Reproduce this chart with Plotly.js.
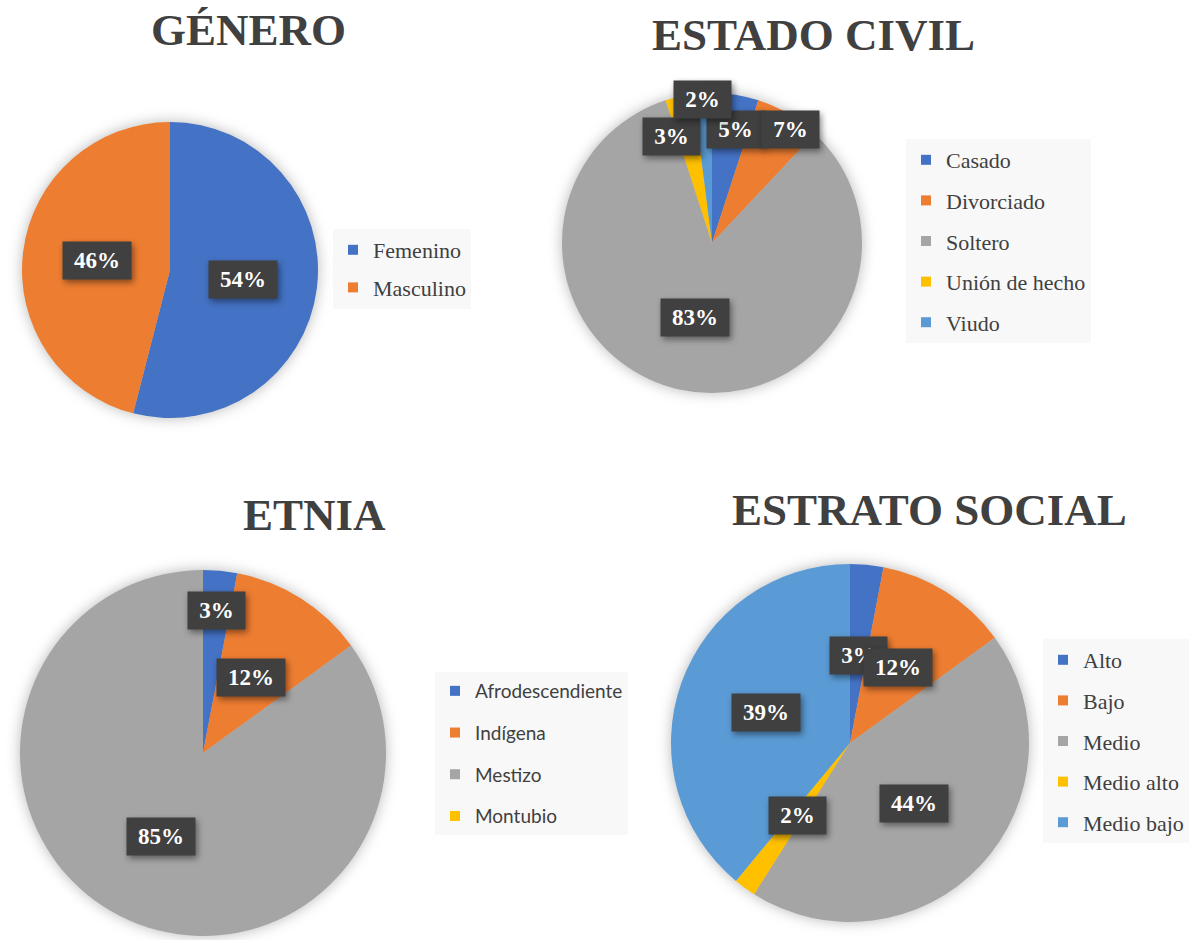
<!DOCTYPE html>
<html>
<head>
<meta charset="utf-8">
<script src="https://cdn.plot.ly/plotly-3.0.1.min.js"></script>
<style>
  html, body { margin: 0; padding: 0; background: #ffffff; }
  #chart { width: 1202px; height: 940px; }
  .pielayer .trace { filter: drop-shadow(0px 0px 7px rgba(0,0,0,0.28)); }
  .annotation rect.bg { filter: drop-shadow(2px 3px 3px rgba(0,0,0,0.45)); }
</style>
</head>
<body>
<div id="chart"></div>
<script>
// ---------------- DATA ----------------
const generoLabels = ['Femenino', 'Masculino'];
const generoValues = [54, 46];

const estadoLabels = ['Casado', 'Divorciado', 'Soltero', 'Unión de hecho', 'Viudo'];
const estadoValues = [5, 7, 83, 3, 2];

const etniaLabels = ['Afrodescendiente', 'Indígena', 'Mestizo', 'Montubio'];
const etniaValues = [3, 12, 85, 0];

const estratoLabels = ['Alto', 'Bajo', 'Medio', 'Medio alto', 'Medio bajo'];
const estratoValues = [3, 12, 44, 2, 39];

const chartTitles = ['GÉNERO', 'ESTADO CIVIL', 'ETNIA', 'ESTRATO SOCIAL'];

// ---------------- STYLE / LAYOUT ----------------
const W = 1202, H = 940;
const palette = ['#4472C4', '#ED7D31', '#A5A5A5', '#FFC000', '#5B9BD5'];
const serif = 'Liberation Serif';
const sans = 'Lato';

const panels = [
  { labels: generoLabels, values: generoValues, title: chartTitles[0],
    box: [22, 122, 318, 418], titleAt: [248, 30],
    legendAt: [333, 229], legendFont: serif, legendSize: 22, gap: 6,
    labelRadius: [0.5, 0.5], labelTurn: [0, 0] },
  { labels: estadoLabels, values: estadoValues, title: chartTitles[1],
    box: [562, 93, 862, 393], titleAt: [813, 35],
    legendAt: [906, 139], legendFont: serif, legendSize: 22, gap: 9,
    labelRadius: [0.77, 0.92, 0.51, 0.76, 0.96], labelTurn: [2.5, 4, 0, -8.4, 0] },
  { labels: etniaLabels, values: etniaValues, title: chartTitles[2],
    box: [20, 570, 386, 936], titleAt: [314, 515],
    legendAt: [435, 672], legendFont: sans, legendSize: 19, gap: 14,
    labelRadius: [0.78, 0.49, 0.51, 0.5], labelTurn: [0, 0, 0, 0] },
  { labels: estratoLabels, values: estratoValues, title: chartTitles[3],
    box: [671, 564, 1029, 922], titleAt: [929, 510],
    legendAt: [1043, 639], legendFont: serif, legendSize: 22, gap: 9,
    labelRadius: [0.49, 0.5, 0.49, 0.5, 0.5], labelTurn: [0, 0, 0, 0, 0] }
];

const traces = [];
const annotations = [];
const layout = {
  width: W, height: H,
  margin: { l: 0, r: 0, t: 0, b: 0 },
  font: { family: serif, color: '#404040' },
  paper_bgcolor: '#ffffff', plot_bgcolor: '#ffffff',
  showlegend: true,
  hovermode: false,
  xaxis: { visible: false, fixedrange: true },
  yaxis: { visible: false, fixedrange: true },
  annotations: annotations
};

const labelFontSize = 23;

panels.forEach((p, k) => {
  const legendId = k === 0 ? 'legend' : 'legend' + (k + 1);
  const [x0, y0, x1, y1] = p.box;

  // Pie
  traces.push({
    type: 'pie',
    labels: p.labels,
    values: p.values,
    marker: { colors: palette.slice(0, p.labels.length), line: { width: 0 } },
    sort: false,
    direction: 'clockwise',
    rotation: 0,
    textinfo: 'none',
    hoverinfo: 'skip',
    showlegend: false,
    domain: { x: [x0 / W, x1 / W], y: [1 - y1 / H, 1 - y0 / H] }
  });

  // Legend entries (one per category, same colours as slices)
  p.labels.forEach((lab, i) => {
    traces.push({
      type: 'scatter', x: [null], y: [null], mode: 'markers',
      marker: { symbol: 'square', size: 10, color: palette[i] },
      name: lab, legend: legendId, legendgroup: 'g' + k + '_' + i,
      showlegend: true, hoverinfo: 'skip'
    });
  });

  layout[legendId] = {
    x: p.legendAt[0] / W, y: 1 - p.legendAt[1] / H,
    xanchor: 'left', yanchor: 'top',
    bgcolor: '#f8f8f8', borderwidth: 0,
    font: { family: p.legendFont, size: p.legendSize, color: '#404040' },
    traceorder: 'grouped', tracegroupgap: p.gap,
    itemclick: false, itemdoubleclick: false
  };

  // Title
  annotations.push({
    xref: 'paper', yref: 'paper',
    x: p.titleAt[0] / W, y: 1 - p.titleAt[1] / H,
    xanchor: 'center', yanchor: 'middle',
    text: '<b>' + p.title + '</b>', showarrow: false,
    font: { family: serif, size: 45, color: '#404040' }
  });

  // Data labels, positioned from the slice angles
  const total = p.values.reduce((a, b) => a + b, 0);
  const cx = (x0 + x1) / 2, cy = (y0 + y1) / 2;
  const r = Math.min(x1 - x0, y1 - y0) / 2;
  let cum = 0;
  p.values.forEach((v, i) => {
    if (v <= 0) { cum += v; return; }
    const mid = (cum + v / 2) / total * 360 + p.labelTurn[i];
    cum += v;
    const a = mid * Math.PI / 180;
    const px = cx + p.labelRadius[i] * r * Math.sin(a);
    const py = cy - p.labelRadius[i] * r * Math.cos(a);
    const txt = Math.round(v / total * 100) + '%';
    const digits = txt.length - 1;
    annotations.push({
      xref: 'paper', yref: 'paper',
      x: px / W, y: 1 - py / H,
      xanchor: 'center', yanchor: 'middle',
      text: '<b>' + txt + '</b>', showarrow: false,
      font: { family: serif, size: labelFontSize, color: '#ffffff' },
      bgcolor: '#404040', borderpad: 2,
      width: Math.round((digits * 0.5 + 1) * labelFontSize + 18), height: 33
    });
  });
});

Plotly.newPlot('chart', traces, layout, { staticPlot: true, displayModeBar: false });
</script>
</body>
</html>
